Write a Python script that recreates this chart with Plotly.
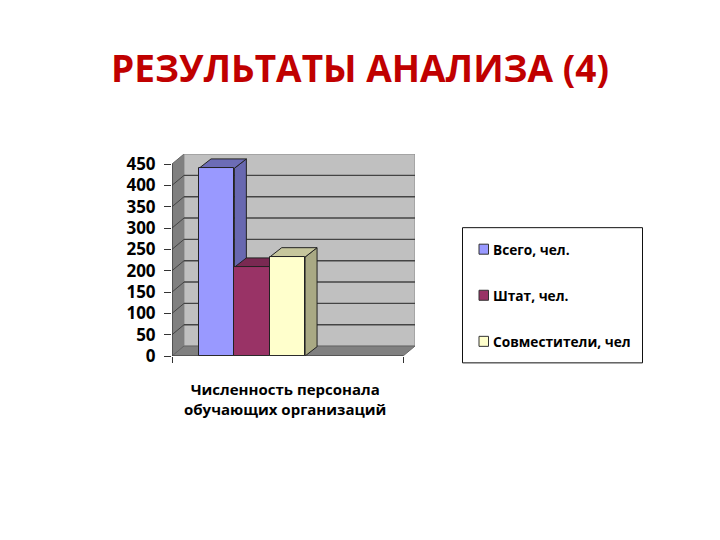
import plotly.graph_objects as go

series = ["Всего, чел.", "Штат, чел.", "Совместители, чел"]
values = [440, 208, 232]
ticks = [0, 50, 100, 150, 200, 250, 300, 350, 400, 450]
category = "Численность персонала<br>обучающих организаций"

colors = ["#9999FF", "#993366", "#FFFFCC"]
side_colors = ["#6868B0", "#6E2549", "#A9A984"]
top_colors = ["#6C6CB6", "#7A2952", "#C6C69C"]

# the page has an 8px body margin, so the figure is 8px smaller each way
M = 8
W, H = 720 - M, 540 - M
line_col = "#222222"

# depth of the fake 3d box, in axis units
dx = 12 / 231
dy = 10 / 0.428
bar_dy = 9.4 / 0.428
bar_w = 0.153
first = 0.117


def px(x):
    return (x - M) / W


def py(y):
    # measured from the last render, the plot area comes out a bit short
    y = (y - 2.4) / 0.974
    return 1 - (y - M) / H


def poly(points, fill, width=1, col=line_col):
    path = "M " + " L ".join(f"{a},{b}" for a, b in points) + " Z"
    return dict(type="path", path=path, xref="x", yref="y", fillcolor=fill,
                line=dict(color=col, width=width), layer="below")


shapes = []
# walls
shapes.append(poly([(0, 450), (dx, 450 + dy), (dx, dy), (0, 0)], "#808080", 1, "#666666"))
shapes.append(poly([(dx, dy), (dx, 450 + dy), (1 + dx, 450 + dy), (1 + dx, dy)], "#C0C0C0", 1, "#8C8C8C"))
shapes.append(poly([(0, 0), (dx, dy), (1 + dx, dy), (1, 0)], "#808080", 1, "#666666"))
# gridlines, back wall and left wall
for t in ticks[1:-1]:
    shapes.append(dict(type="line", xref="x", yref="y", x0=dx, x1=1 + dx, y0=t + dy, y1=t + dy,
                       line=dict(color="#444444", width=1.4), layer="below"))
    shapes.append(dict(type="line", xref="x", yref="y", x0=0, x1=dx, y0=t, y1=t + dy,
                       line=dict(color="#444444", width=1), layer="below"))
shapes.append(dict(type="line", xref="x", yref="y", x0=0, x1=0, y0=0, y1=450,
                   line=dict(color="#333333", width=1), layer="below"))

fig = go.Figure()
for i, name in enumerate(series):
    left = first + i * bar_w
    right = left + bar_w
    v = values[i]
    # side and top faces of each bar
    shapes.append(poly([(right, 0), (right + dx, bar_dy), (right + dx, v + bar_dy), (right, v)], side_colors[i]))
    shapes.append(poly([(left, v), (left + dx, v + bar_dy), (right + dx, v + bar_dy), (right, v)], top_colors[i]))
    fig.add_trace(go.Bar(x=[left + bar_w / 2], y=[v], width=bar_w, name=name, showlegend=False,
                         marker=dict(color=colors[i], line=dict(color=line_col, width=1))))

# legend box, drawn by hand to keep its spacing
shapes.append(dict(type="rect", xref="paper", yref="paper", x0=px(462.5), x1=px(642.5), y0=py(362.5), y1=py(227.5),
                   fillcolor="white", line=dict(color="#111111", width=1)))
annotations = []
legend_y = [249, 295, 341]
for i, name in enumerate(series):
    shapes.append(dict(type="rect", xref="paper", yref="paper", x0=px(479), x1=px(488.5),
                       y0=py(legend_y[i] + 5), y1=py(legend_y[i] - 5), fillcolor=colors[i],
                       line=dict(color="#333333", width=1)))
    annotations.append(dict(text=name, xref="paper", yref="paper", x=px(493), y=py(legend_y[i]), xanchor="left",
                            yanchor="middle", showarrow=False, xshift=-2,
                            font=dict(family="Open Sans", size=13.7, color="black", weight="bold")))

annotations.append(dict(text=category, xref="paper", yref="paper", x=px(285), y=py(399), xanchor="center",
                        yanchor="middle", showarrow=False, align="center",
                        font=dict(family="Open Sans", size=15, color="black", weight="bold")))

fig.update_layout(
    width=W, height=H, autosize=False,
    margin=dict(l=0, r=0, t=0, b=0),
    paper_bgcolor="white", plot_bgcolor="white",
    showlegend=False, bargap=0,
    shapes=shapes, annotations=annotations,
    title=dict(text="РЕЗУЛЬТАТЫ АНАЛИЗА (4)", x=px(360), xanchor="center", y=1 - (69 - M) / H, yanchor="middle",
               font=dict(family="Open Sans", size=37, color="#C00000", weight="bold")),
    xaxis=dict(domain=[px(172), px(415)], range=[0, 1 + dx], tickvals=[0, 1], ticktext=["", ""],
               ticks="outside", ticklen=6, tickcolor="#333333", showgrid=False, zeroline=False,
               showline=False, fixedrange=True),
    yaxis=dict(domain=[py(355.7), py(154)], range=[0, 450 + dy], tickvals=ticks, ticks="outside", ticklen=7,
               tickcolor="#333333", showgrid=False, zeroline=False, showline=False, ticklabelstandoff=5,
               tickfont=dict(family="Open Sans", size=17, color="black", weight="bold"), fixedrange=True),
)
fig.add_shape(type="line", xref="x", yref="y", x0=0, x1=1, y0=0, y1=0, line=dict(color="#333333", width=1))

fig.write_html("out.html")
